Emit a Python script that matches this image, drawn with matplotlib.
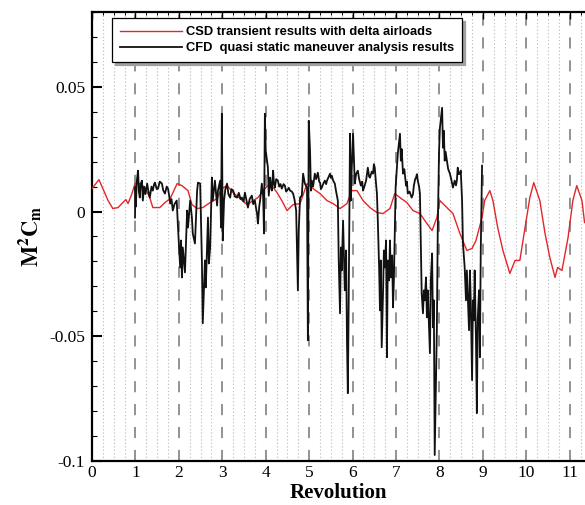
import matplotlib
matplotlib.use("Agg")
import matplotlib.pyplot as plt
from matplotlib.ticker import MultipleLocator, FuncFormatter

plt.rcParams['axes.unicode_minus'] = False
plt.rcParams['mathtext.fontset'] = 'stix'
plt.rcParams['lines.scale_dashes'] = False

# ---- data ----
red_x = [0.00, 0.16, 0.37, 0.48, 0.60, 0.71, 0.78, 0.83, 0.92, 0.99, 1.10, 1.22, 1.33, 1.40,
         1.56, 1.68, 1.80, 1.96, 2.07, 2.21, 2.30, 2.42, 2.55, 2.72, 2.88, 2.99, 3.11, 3.25,
         3.41, 3.57, 3.71, 3.82, 3.98, 4.10, 4.26, 4.37, 4.49, 4.63, 4.79, 4.95, 5.09, 5.25,
         5.41, 5.55, 5.71, 5.87, 5.98, 6.10, 6.24, 6.40, 6.56, 6.70, 6.86, 6.97, 7.09, 7.25,
         7.39, 7.55, 7.71, 7.83, 7.94, 8.01, 8.17, 8.31, 8.47, 8.63, 8.75, 8.84, 8.98, 9.04,
         9.16, 9.23, 9.34, 9.46, 9.62, 9.74, 9.85, 9.97, 10.08, 10.17, 10.31, 10.43, 10.54,
         10.66, 10.72, 10.82, 10.96, 11.07, 11.16, 11.28, 11.34]
red_y = [0.0092, 0.0128, 0.0044, 0.0012, 0.0016, 0.0036, 0.0048, 0.0032, 0.0072, 0.0112,
         0.0112, 0.0096, 0.0056, 0.0016, 0.0016, 0.0036, 0.0052, 0.0112, 0.0104, 0.0084,
         0.0028, 0.0012, 0.0016, 0.0036, 0.0052, 0.0092, 0.0104, 0.0076, 0.0052, 0.0028,
         0.0044, 0.0056, 0.0092, 0.0112, 0.0076, 0.0044, 0.0004, 0.0028, 0.0032, 0.0112,
         0.0092, 0.0072, 0.0044, 0.0032, 0.0012, 0.0032, 0.0084, 0.0084, 0.0044, 0.0016,
         -0.0004, -0.0008, 0.0012, 0.0072, 0.0056, 0.0036, 0.0004, -0.0008, -0.0048, -0.0076,
         -0.0024, 0.0044, 0.0016, -0.0008, -0.0088, -0.0156, -0.0148, -0.0116, -0.0024, 0.0044,
         0.0084, 0.0044, -0.0064, -0.0156, -0.0248, -0.0196, -0.0196, -0.0064, 0.0056, 0.0116,
         0.0044, -0.0088, -0.0184, -0.0264, -0.0224, -0.0236, -0.0104, 0.0044, 0.0104, 0.0044,
         -0.0044]

black_x = [0.99, 1.00, 1.01, 1.03, 1.06, 1.08, 1.10, 1.12, 1.15, 1.17, 1.20, 1.23, 1.27, 1.30,
           1.33, 1.37, 1.40, 1.43, 1.45, 1.49, 1.52, 1.56, 1.61, 1.64, 1.68, 1.72, 1.75, 1.78,
           1.80, 1.83, 1.86, 1.90, 1.95, 1.98, 2.03, 2.05, 2.07, 2.09, 2.14, 2.19, 2.21, 2.26,
           2.30, 2.32, 2.37, 2.42, 2.44, 2.49, 2.53, 2.55, 2.60, 2.62, 2.67, 2.69, 2.72, 2.76,
           2.78, 2.83, 2.88, 2.90, 2.95, 2.97, 2.99, 3.01, 3.04, 3.07, 3.11, 3.14, 3.18, 3.21,
           3.25, 3.29, 3.34, 3.38, 3.42, 3.45, 3.49, 3.52, 3.55, 3.59, 3.63, 3.68, 3.71, 3.75,
           3.78, 3.80, 3.82, 3.85, 3.87, 3.91, 3.94, 3.96, 3.98, 4.00, 4.05, 4.07, 4.10, 4.12,
           4.14, 4.17, 4.19, 4.21, 4.24, 4.28, 4.31, 4.34, 4.37, 4.41, 4.44, 4.47, 4.49, 4.53,
           4.56, 4.60, 4.63, 4.66, 4.70, 4.74, 4.76, 4.79, 4.83, 4.86, 4.90, 4.95, 4.97, 4.99,
           5.02, 5.04, 5.06, 5.09, 5.13, 5.16, 5.20, 5.23, 5.25, 5.27, 5.29, 5.32, 5.36, 5.39,
           5.41, 5.45, 5.48, 5.50, 5.52, 5.55, 5.59, 5.62, 5.66, 5.68, 5.71, 5.73, 5.75, 5.78,
           5.82, 5.85, 5.87, 5.89, 5.91, 5.94, 5.96, 5.98, 6.01, 6.05, 6.08, 6.12, 6.15, 6.19,
           6.22, 6.24, 6.27, 6.31, 6.33, 6.35, 6.38, 6.40, 6.44, 6.47, 6.49, 6.51, 6.54, 6.56,
           6.58, 6.61, 6.63, 6.65, 6.67, 6.70, 6.72, 6.74, 6.77, 6.79, 6.81, 6.84, 6.86, 6.88,
           6.91, 6.93, 6.95, 6.99, 7.04, 7.09, 7.11, 7.13, 7.16, 7.19, 7.23, 7.25, 7.27, 7.31,
           7.36, 7.39, 7.41, 7.44, 7.46, 7.48, 7.50, 7.53, 7.55, 7.57, 7.59, 7.62, 7.64, 7.66,
           7.69, 7.71, 7.73, 7.78, 7.80, 7.83, 7.85, 7.87, 7.89, 7.92, 7.94, 7.96, 7.99, 8.01,
           8.06, 8.08, 8.10, 8.12, 8.14, 8.17, 8.20, 8.24, 8.27, 8.31, 8.33, 8.35, 8.38, 8.40,
           8.42, 8.44, 8.47, 8.49, 8.52, 8.54, 8.58, 8.61, 8.63, 8.65, 8.68, 8.70, 8.72, 8.75,
           8.77, 8.79, 8.81, 8.84, 8.86, 8.88, 8.91, 8.93, 8.95, 8.98]
black_y = [-0.0024, 0.0100, 0.0020, 0.0120, 0.0164, 0.0080, 0.0056, 0.0110, 0.0124, 0.0044,
           0.0100, 0.0070, 0.0112, 0.0080, 0.0056, 0.0100, 0.0084, 0.0110, 0.0116, 0.0090,
           0.0092, 0.0120, 0.0112, 0.0085, 0.0072, 0.0100, 0.0092, 0.0060, 0.0032, 0.0050,
           0.0004, 0.0030, 0.0044, -0.0064, -0.0224, -0.0116, -0.0264, -0.0144, -0.0244, 0.0004,
           -0.0064, 0.0044, -0.0024, -0.0088, -0.0128, 0.0084, 0.0116, 0.0112, -0.0196, -0.0448,
           -0.0196, -0.0304, -0.0024, -0.0208, -0.0144, 0.0136, 0.0044, 0.0124, 0.0024, 0.0084,
           0.0124, -0.0064, 0.0392, -0.0116, 0.0044, 0.0090, 0.0112, 0.0070, 0.0056, 0.0090,
           0.0084, 0.0060, 0.0056, 0.0075, 0.0050, 0.0056, 0.0040, 0.0076, 0.0050, 0.0016,
           0.0050, 0.0064, 0.0030, 0.0044, 0.0010, -0.0008, -0.0048, 0.0020, 0.0044, 0.0112,
           0.0060, -0.0088, 0.0392, 0.0244, 0.0176, 0.0064, 0.0136, 0.0100, 0.0084, 0.0164,
           0.0110, 0.0096, 0.0130, 0.0124, 0.0100, 0.0110, 0.0092, 0.0110, 0.0104, 0.0080,
           0.0084, 0.0095, 0.0084, 0.0080, 0.0072, 0.0050, 0.0004, -0.0316, -0.0076, 0.0056,
           0.0064, 0.0152, 0.0112, 0.0096, -0.0516, 0.0364, 0.0244, 0.0084, 0.0124, 0.0100,
           0.0152, 0.0130, 0.0156, 0.0120, 0.0116, 0.0090, 0.0096, 0.0110, 0.0124, 0.0110,
           0.0124, 0.0140, 0.0152, 0.0135, 0.0144, 0.0125, 0.0112, 0.0080, 0.0044, -0.0196,
           -0.0408, -0.0144, -0.0236, -0.0036, -0.0316, -0.0156, -0.0516, -0.0728, -0.0356, 0.0312,
           0.0044, 0.0176, 0.0312, 0.0112, 0.0150, 0.0164, 0.0130, 0.0104, 0.0120, 0.0084,
           0.0100, 0.0124, 0.0150, 0.0176, 0.0140, 0.0136, 0.0160, 0.0152, 0.0190, 0.0176,
           0.0110, 0.0072, -0.0036, -0.0224, -0.0396, -0.0196, -0.0544, -0.0328, -0.0156, -0.0224,
           -0.0116, -0.0584, -0.0196, -0.0276, -0.0116, -0.0264, -0.0176, -0.0384, -0.0276, 0.0096,
           0.0232, 0.0312, 0.0204, 0.0250, 0.0152, 0.0170, 0.0104, 0.0120, 0.0072, 0.0080,
           0.0056, 0.0070, 0.0104, 0.0130, 0.0136, 0.0150, 0.0124, 0.0100, 0.0072, -0.0116,
           -0.0328, -0.0408, -0.0316, -0.0356, -0.0264, -0.0424, -0.0316, -0.0568, -0.0276, -0.0168,
           -0.0464, -0.0356, -0.0976, -0.0676, -0.0464, -0.0076, 0.0244, 0.0336, 0.0416, 0.0256,
           0.0324, 0.0204, 0.0240, 0.0204, 0.0170, 0.0152, 0.0130, 0.0096, 0.0110, 0.0124,
           0.0105, 0.0124, 0.0176, 0.0150, 0.0152, 0.0164, 0.0044, -0.0128, -0.0224, -0.0356,
           -0.0236, -0.0328, -0.0476, -0.0236, -0.0356, -0.0676, -0.0356, -0.0436, -0.0236, -0.0516,
           -0.0808, -0.0436, -0.0316, -0.0584, -0.0156, 0.0184]

x_major = list(range(0, 12))
y_major = [-0.1, -0.05, 0.0, 0.05]
legend_labels = ["CSD transient results with delta airloads",
                 "CFD  quasi static maneuver analysis results"]
xlabel = "Revolution"
ylabel = r"$\mathbf{M^2C_m}$"

# ---- figure ----
fig = plt.figure(figsize=(5.85, 5.05), dpi=100)
ax = fig.add_axes([92/585, 1 - 461/505, 1 - 92/585, (461 - 12)/505])
ax.set_xlim(0, 11.35)
ax.set_ylim(-0.1, 0.08)

# vertical grid lines
for k in range(1, 46):
    xv = k * 0.25
    if xv > 11.35:
        break
    if k % 4 == 0:
        ax.axvline(xv, color='#8a8a8a', lw=1.3, dashes=(8, 8.5), zorder=1)
    else:
        ax.axvline(xv, color='#c4c4c4', lw=0.8, dashes=(1, 1.5), zorder=1)

ax.plot(red_x, red_y, color='#e3262a', lw=1.0, label=legend_labels[0], zorder=3)
ax.plot(black_x, black_y, color='#111111', lw=1.3, label=legend_labels[1], zorder=4)

# ticks
ax.set_xticks(x_major)
ax.xaxis.set_minor_locator(MultipleLocator(0.25))
ax.set_yticks(y_major)
ax.yaxis.set_minor_locator(MultipleLocator(0.01))
ax.yaxis.set_major_formatter(FuncFormatter(lambda v, p: ('%g' % round(v, 4)) if abs(v) > 1e-9 else '0'))
ax.tick_params(axis='y', which='major', direction='in', length=7.5, width=1.5, pad=5,
               labelsize=12.5, left=True, right=False)
ax.tick_params(axis='y', which='minor', direction='in', length=3.8, width=0.8, left=True, right=False)
ax.tick_params(axis='x', which='major', direction='in', length=5, width=1.0, pad=3,
               labelsize=12.5, top=True, bottom=False)
ax.tick_params(axis='x', which='minor', direction='in', length=2.5, width=0.7, top=True, bottom=False)
for lab in ax.get_xticklabels() + ax.get_yticklabels():
    lab.set_fontfamily('Liberation Serif')

for side in ['left', 'bottom', 'top']:
    ax.spines[side].set_linewidth(1.6)
ax.spines['right'].set_visible(False)

ax.set_xlabel(xlabel, fontfamily='Liberation Serif', fontweight='bold', fontsize=15, labelpad=1)
ax.set_ylabel(ylabel, fontsize=16, labelpad=4)

leg = ax.legend(loc='upper left', bbox_to_anchor=((112 - 92)/493, (461 - 18)/449),
                borderaxespad=0, fancybox=False,
                shadow={'color': '#a0a0a0', 'alpha': 1.0}, framealpha=1,
                edgecolor='black', handlelength=4.8, handletextpad=0.3,
                borderpad=0.62, labelspacing=0.32,
                prop={'family': 'Liberation Sans', 'weight': 'bold', 'size': 9.3})
leg.get_frame().set_linewidth(0.9)
leg.set_zorder(10)

fig.savefig('out.png', dpi=100)
